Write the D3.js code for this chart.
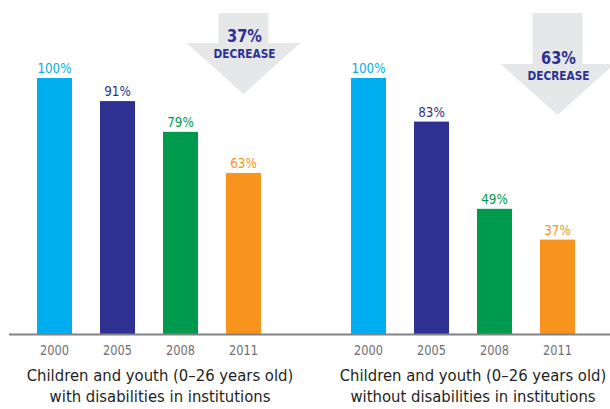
<!DOCTYPE html>
<html>
<head>
<meta charset="utf-8">
<script src="https://cdn.jsdelivr.net/npm/d3@7"></script>
<style>
    html, body { margin: 0; padding: 0; background: #fff; }
    svg text { font-family: "DejaVu Sans Condensed", "DejaVu Sans", sans-serif; }
</style>
</head>
<body>
<div id="chart-container"></div>
<script>
// Chart data
const years = ["2000", "2005", "2008", "2011"];
const withDisabilities = [100, 91, 79, 63];
const withoutDisabilities = [100, 83, 49, 37];
const captionsWith = ["Children and youth (0\u201326 years old)", "with disabilities in institutions"];
const captionsWithout = ["Children and youth (0\u201326 years old)", "without disabilities in institutions"];
const barColors = ["#00aeef", "#2e3192", "#009a4e", "#f7941d"];

const width = 610, height = 409;
const baseline = 334.5;

const svg = d3.select('#chart-container')
    .append('svg')
    .attr('width', width)
    .attr('height', height);

const y = d3.scaleLinear()
    .domain([0, 100])
    .range([baseline, 78]);

// No narrow font installed, so squeeze glyphs horizontally
function squeeze(sel, k) {
    sel.each(function() {
        const w = this.getComputedTextLength();
        d3.select(this)
            .attr('textLength', w * k)
            .attr('lengthAdjust', 'spacingAndGlyphs');
    });
}

// Panel layout: x offset of band range, arrow placement, caption center
const panels = [
    { values: withDisabilities, captions: captionsWith, x0: 23, headY: 43, tipY: 94, textY: 42, captionX: 160 },
    { values: withoutDisabilities, captions: captionsWithout, x0: 337, headY: 64, tipY: 115, textY: 64, captionX: 473 }
];

panels.forEach(p => {
    const x = d3.scaleBand()
        .domain(years)
        .range([p.x0, p.x0 + 252])
        .paddingInner(28 / 63)
        .paddingOuter(14 / 63);

    const g = svg.append('g');

    // Decrease arrow centered above the last bar
    const last = years[years.length - 1];
    const cx = x(last) + x.bandwidth() / 2;
    const stemHalf = 25, headHalf = 57, stemTop = 13;
    g.append('path')
        .attr('d', d3.line()([
            [cx - stemHalf, stemTop], [cx + stemHalf, stemTop],
            [cx + stemHalf, p.headY], [cx + headHalf, p.headY],
            [cx, p.tipY], [cx - headHalf, p.headY],
            [cx - stemHalf, p.headY]
        ]) + 'Z')
        .attr('fill', '#e6e7e8');

    const drop = p.values[0] - p.values[p.values.length - 1];
    g.append('text')
        .attr('class', 'small')
        .attr('x', cx + 1)
        .attr('y', p.textY)
        .attr('text-anchor', 'middle')
        .attr('font-size', 18)
        .attr('font-weight', 'bold')
        .attr('fill', '#2e3192')
        .text(`${drop}%`);
    g.append('text')
        .attr('class', 'small')
        .attr('x', cx + 1)
        .attr('y', p.textY + 16)
        .attr('text-anchor', 'middle')
        .attr('font-size', 13)
        .attr('font-weight', 'bold')
        .attr('fill', '#2e3192')
        .text('DECREASE');

    // Bars
    g.selectAll('rect.bar')
        .data(p.values)
        .enter()
        .append('rect')
        .attr('class', 'bar')
        .attr('x', (d, i) => x(years[i]))
        .attr('y', d => y(d))
        .attr('width', x.bandwidth())
        .attr('height', d => baseline - y(d))
        .attr('fill', (d, i) => barColors[i]);

    // Value labels
    g.selectAll('text.value')
        .data(p.values)
        .enter()
        .append('text')
        .attr('class', 'value')
        .attr('x', (d, i) => x(years[i]) + x.bandwidth() / 2)
        .attr('y', d => y(d) - 5)
        .attr('text-anchor', 'middle')
        .attr('font-size', 14)
        .attr('fill', (d, i) => barColors[i])
        .text(d => `${d}%`);

    // Year tick labels
    const axis = g.append('g')
        .attr('transform', `translate(0,${baseline})`)
        .call(d3.axisBottom(x).tickSize(0).tickPadding(10.5));
    axis.select('.domain').remove();
    axis.selectAll('text')
        .attr('class', 'small')
        .attr('font-size', 14)
        .attr('fill', '#6d6e71')
        .style('font-family', '"DejaVu Sans Condensed", "DejaVu Sans", sans-serif');

    // Captions
    p.captions.forEach((c, i) => {
        g.append('text')
            .attr('x', p.captionX)
            .attr('y', 381 + i * 21)
            .attr('text-anchor', 'middle')
            .attr('font-size', 16.5)
            .attr('fill', '#231f20')
            .text(c);
    });
});

squeeze(svg.selectAll('text.small'), 0.9);
squeeze(svg.selectAll('text.value'), 0.95);

// Shared baseline
svg.append('line')
    .attr('x1', 9)
    .attr('x2', width)
    .attr('y1', baseline)
    .attr('y2', baseline)
    .attr('stroke', '#808285')
    .attr('stroke-width', 2);
</script>
</body>
</html>
